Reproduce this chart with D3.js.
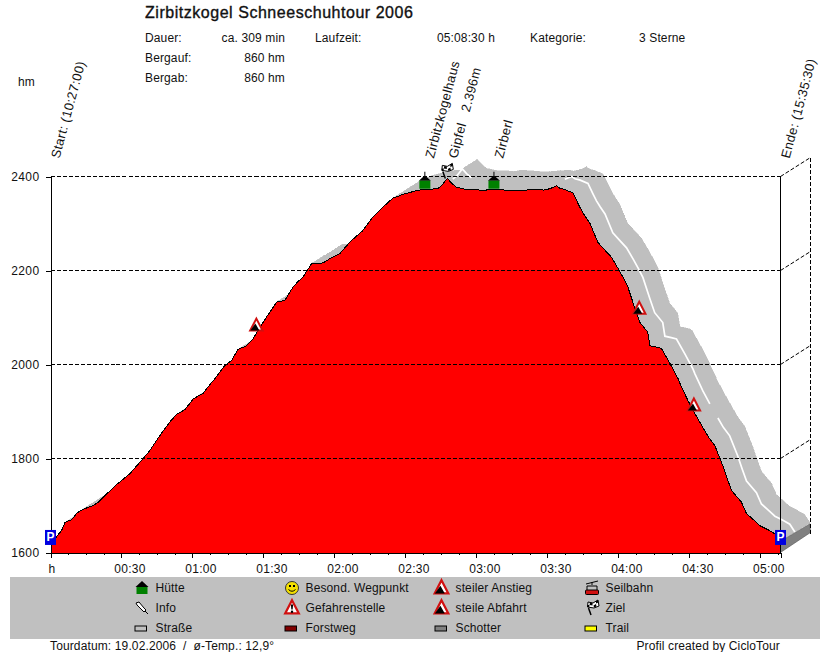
<!DOCTYPE html>
<html><head><meta charset="utf-8">
<script src="https://cdn.jsdelivr.net/npm/d3@7"></script>
<style>
html,body{margin:0;padding:0;background:#fff}
svg{display:block}
text{font-family:"Liberation Sans",Arial,sans-serif;font-size:12px;fill:#111;letter-spacing:.13px;white-space:pre}
</style></head><body>
<svg id="c" width="830" height="652"></svg>
<script>
// minutes since start
const times=[0,2.3,4.7,6.1,9,11,13,15.8,18,20,23,25.5,28.5,31,33.6,36,38.5,42,45.4,48.4,51,53.3,56.8,60.2,62,64.4,67,69.5,73.7,76.6,79.2,82.9,85.6,88.5,91.3,93.5,95.6,99,102.5,104.5,106.7,110.4,115.1,118,122.3,125,127.3,132,136.3,138,140.5,144.7,149,154,156.8,160,163.7,165.5,167.7,169.5,171.6,176,180,183,186,190,194,198.4,203,207,208.5,211,213.9,215.3,217.5,220.8,222.9,224.4,226,228,231.3,234,237.1,239.9,242,244,247,249,252.4,253.3,256,258.2,261.8,265.2,266,269.4,272.3,275.7,278,280.7,284.1,286,287.8,292,294.1,297,299.8,303,306.1,308.3];
// metres above sea level
const elevations=[1619,1632,1647,1664,1670,1683,1690,1696,1700,1706,1721,1733,1747,1757,1768,1782,1796,1817,1843,1864,1881,1894,1904,1926,1932,1938,1955,1970,1998,2009,2032,2040,2055,2079,2101,2117,2133,2136,2165,2176,2186,2215,2216,2225,2236,2252,2264,2285,2314,2322,2335,2354,2362,2369,2372,2373,2374,2382,2396,2386,2377,2372,2372,2370,2373,2372,2370,2370,2372,2373,2371,2374,2380,2375,2372,2365,2343,2328,2315,2300,2260,2245,2228,2204,2185,2165,2119,2090,2069,2040,2037,2034,2002,1970,1960,1923,1896,1866,1846,1828,1785,1757,1732,1707,1683,1670,1657,1649,1640,1623];
const xTickLabels=["h","00:30","01:00","01:30","02:00","02:30","03:00","03:30","04:00","04:30","05:00"];
const xTickValues=[0,30,60,90,120,150,180,210,240,270,300];
const yTickValues=[1600,1800,2000,2200,2400];
const huts=[[158.2,2374],[187.4,2374]];
const warnings=[[87,2070],[248.8,2106],[271.9,1900]];
const summitFlag=[[167.7,2396]];
const parking=[[0,1632],[308.5,1632]];
const centreLineSpans=[[163,171.6],[211,272.3],[273.5,308.3]];
const waypointLabels=[["Start: (10:27:00)",0],["Zirbitzkogelhaus",158.2],["Gipfel   2.396m",168],["Zirberl",187.4],["Ende: (15:35:30)",308.5]];
const infoRows=[["Dauer:","ca. 309 min"],["Bergauf:","860 hm"],["Bergab:","860 hm"]];
const legendRows=[["Hütte","Besond. Wegpunkt","steiler Anstieg","Seilbahn"],["Info","Gefahrenstelle","steile Abfahrt","Ziel"],["Straße","Forstweg","Schotter","Trail"]];

const svg=d3.select("#c");
const x=d3.scaleLinear().domain([0,308.5]).range([50.5,780.5]);
const y=d3.scaleLinear().domain([1600,2400]).range([552.5,176.5]);
const dx=30,dy=-19;
const pts=times.map((t,i)=>[x(t),y(elevations[i])]);
const dash="4,2";

// ribbon (road surface in perspective)
const rib=svg.append("g").attr("shape-rendering","crispEdges");
rib.selectAll("path").data(d3.pairs(pts)).join("path")
 .attr("fill","#bfbfbf").attr("stroke","#bfbfbf").attr("stroke-width",.5)
 .attr("d",([a,b])=>`M${a}L${b}L${b[0]+dx},${b[1]+dy}L${a[0]+dx},${a[1]+dy}Z`);
// ribbon centre line
const cl=d3.line().x(i=>pts[i][0]+dx/2).y(i=>pts[i][1]+dy/2);
centreLineSpans.forEach(([a,b])=>{
 const idx=d3.range(pts.length).filter(i=>times[i]>=a&&times[i]<=b);
 svg.append("path").attr("fill","none").attr("stroke","#fff").attr("stroke-width",1.7).attr("d",cl(idx));
});

// end wedge
const last=pts[pts.length-1];
svg.append("path").attr("fill","#808080").attr("stroke","#444").attr("stroke-width",.5)
 .attr("d",`M${x(308.5)},${y(1600)}L${x(308.5)+dx},${y(1600)+dy-1}L${last[0]+dx},${last[1]+dy+1}L${last[0]},${last[1]}Z`);

// profile
const area=d3.area().x(d=>d[0]).y1(d=>d[1]).y0(y(1600));
svg.append("path").attr("fill","#ff0000").attr("shape-rendering","crispEdges").attr("d",area(pts));
svg.append("path").attr("fill","none").attr("stroke","#000").attr("stroke-width",1).attr("shape-rendering","crispEdges")
 .attr("d",d3.line()(pts));

// grid
const grid=svg.append("g").attr("stroke","#000").attr("fill","none").attr("shape-rendering","crispEdges");
yTickValues.slice(1).forEach(v=>{
 grid.append("path").attr("stroke-dasharray",dash).attr("d",`M${x(0)},${y(v)}H${x(308.5)}`);
});
const sl=svg.append("g").attr("stroke","#000").attr("fill","none");
yTickValues.slice(1).forEach(v=>{
 sl.append("path").attr("stroke-dasharray",dash).attr("d",`M${x(308.5)},${y(v)}l${dx},${dy}`);
});
grid.append("path").attr("stroke-dasharray",dash).attr("d",`M${x(308.5)+dx},${y(2400)+dy}V${y(1600)+dy}`);

// axes
const axes=svg.append("g");
const yAxis=d3.axisLeft(y).tickValues(yTickValues).tickSize(5).tickPadding(6).tickFormat(d3.format("d"));
axes.append("g").attr("transform",`translate(${x(0)},0)`).call(yAxis)
 .call(g=>g.selectAll("text").style("font-size","12px").style("letter-spacing",".4px").attr("dy","0.3em"));
const xAxis=d3.axisBottom(x).tickValues(xTickValues).tickSize(5).tickPadding(7).tickFormat((d,i)=>xTickLabels[i]);
axes.append("g").attr("transform",`translate(0,${y(1600)})`).call(xAxis)
 .call(g=>g.selectAll("text").style("font-size","12px").style("letter-spacing",".3px").attr("dy","0.71em")
   .attr("dx",(d,i)=>i?8:1));
axes.append("g").attr("transform",`translate(0,${y(1600)})`)
 .call(d3.axisBottom(x).tickValues(d3.range(0,308,7.5)).tickSize(2).tickFormat(""));
axes.selectAll(".domain").attr("stroke","#000");
axes.selectAll("path,line").attr("shape-rendering","crispEdges");
axes.append("path").attr("stroke","#000").attr("shape-rendering","crispEdges").attr("d",`M${x(308.5)},${y(2400)}V${y(1600)}`);

// icon painters
function hut(g){
 g.append("path").attr("fill","#000").attr("d","M-.5,-17V-13L-6,-8H6L.5,-13V-17Z");
 g.append("rect").attr("x",-5.5).attr("y",-8).attr("width",11).attr("height",8).attr("fill","#008000");
}
function warn(g,kind){
 g.append("path").attr("fill","#fff").attr("stroke","#d01010").attr("stroke-width",2).attr("stroke-linejoin","miter")
  .attr("d","M0,-13L6.2,-1H-6.2Z");
 if(kind==="mark"){
  g.append("path").attr("fill","#000").attr("d","M-1,-9H1L.6,-4.5H-.6Z");
  g.append("rect").attr("x",-1).attr("y",-3.5).attr("width",2).attr("height",2).attr("fill","#000");
 } else {
  g.append("path").attr("fill","#000").attr("d","M-6,-1L-1,-8L3,-1Z");
 }
}
function flag(g){
 g.append("path").attr("stroke","#000").attr("stroke-width",1.5).attr("fill","none").attr("d","M-2,0L-4.5,-7");
 g.append("path").attr("fill","#fff").attr("stroke","#000").attr("d","M-5.5,-8L-5,-13L0,-12L5,-15L6,-9L1,-7Z");
 g.append("path").attr("fill","#000").attr("d","M-3,-12.5L-.5,-12V-9.5L-3.5,-10ZM.5,-9.5L3,-11L3.5,-8.5L1,-7.5ZM3,-14L5,-15L5.3,-12.5L3,-11.5ZM-5.5,-10L-3.5,-10L-3.8,-8H-5.5Z");
}
function park(g){
 g.append("rect").attr("x",-5.5).attr("y",-7.5).attr("width",11).attr("height",15).attr("fill","#0000e0");
 g.append("text").attr("text-anchor","middle").attr("y",4).style("font-size","12px").style("font-weight","bold").style("fill","#fff").text("P");
}

// markers
const at=d=>`translate(${x(d[0])},${y(d[1])})`;
svg.selectAll(".h").data(huts).join("g").attr("transform",at).each(function(){hut(d3.select(this))});
svg.selectAll(".w").data(warnings).join("g").attr("transform",at).each(function(){warn(d3.select(this),"m")});
svg.selectAll(".f").data(summitFlag).join("g").attr("transform",at).each(function(){flag(d3.select(this))});
svg.selectAll(".p").data(parking).join("g").attr("transform",at).each(function(){park(d3.select(this))});

// rotated labels
svg.selectAll(".lab").data(waypointLabels).join("text")
 .attr("transform",d=>`translate(${x(d[1])+9},159) rotate(-75)`)
 .style("font-size","13px").style("letter-spacing",".35px").text(d=>d[0]);

// header
svg.append("text").attr("x",145).attr("y",18).attr("textLength",268).attr("stroke","#111").attr("stroke-width",.35)
 .style("font-size","16px").text("Zirbitzkogel Schneeschuhtour 2006");
infoRows.forEach((r,i)=>{
 svg.append("text").attr("x",145).attr("y",42+20*i).text(r[0]);
 svg.append("text").attr("x",285).attr("y",42+20*i).attr("text-anchor","end").text(r[1]);
});
svg.append("text").attr("x",315).attr("y",42).text("Laufzeit:");
svg.append("text").attr("x",495).attr("y",42).attr("text-anchor","end").text("05:08:30 h");
svg.append("text").attr("x",530).attr("y",42).text("Kategorie:");
svg.append("text").attr("x",639).attr("y",42).text("3 Sterne");
svg.append("text").attr("x",18).attr("y",86).text("hm");

// legend
svg.append("rect").attr("x",10).attr("y",577).attr("width",810).attr("height",62).attr("fill","#c0c0c0");
const colX=[155.5,305.5,455.5,605.5], rowY=[592,612,632];
legendRows.forEach((row,r)=>row.forEach((t,c)=>{
 svg.append("text").attr("x",colX[c]).attr("y",rowY[r]).text(t);
}));
const ic=(c,r)=>svg.append("g").attr("transform",`translate(${colX[c]-13.5},${rowY[r]})`);
const lh=ic(0,0).attr("transform","translate(142,594)");
lh.append("path").attr("fill","#000").attr("d","M0,-13L6.5,-7H-6.5Z");
lh.append("rect").attr("x",-5.5).attr("y",-7).attr("width",11).attr("height",7).attr("fill","#008000");
// info pin
const pin=ic(0,1);
pin.append("path").attr("fill","#fff").attr("stroke","#000").attr("d","M-6,-9L-3,-10L2,-4L4,-2L2,0L0,-2L-5,-7Z");
pin.append("path").attr("stroke","#000").attr("d","M3,-1L6,2");
const swatch=(c,col)=>ic(c,2).append("rect").attr("x",-7).attr("y",-6).attr("width",11.5).attr("height",5).attr("fill",col).attr("stroke","#000");
swatch(0,"#c0c0c0");swatch(1,"#800000");swatch(2,"#808080");swatch(3,"#ffff00");
// smiley
const sm=ic(1,0);
sm.append("circle").attr("cx",0).attr("cy",-4).attr("r",6.5).attr("fill","#f4e000").attr("stroke","#333");
sm.append("path").attr("fill","#000").attr("d","M-3,-7h2v2h-2ZM1,-7h2v2h-2Z");
sm.append("path").attr("fill","none").attr("stroke","#000").attr("d","M-3.5,-2.5Q0,1,3.5,-2.5");
warn(ic(1,1).attr("transform","translate(292,614.5) scale(1.1)"),"mark");
warn(ic(2,0).attr("transform","translate(441.5,594.5) scale(1.1)"),"m");
warn(ic(2,1).attr("transform","translate(441.5,614.5) scale(1.1)"),"m");
// cable car
const cc=ic(3,0).attr("transform","translate(592,594)");
cc.append("path").attr("stroke","#000").attr("fill","none").attr("d","M-6,-10L6,-13M0,-12V-9M-5,-3V-8H5V-3");
cc.append("rect").attr("x",-6.5).attr("y",-4).attr("width",13).attr("height",4.5).attr("rx",1).attr("fill","#d01010").attr("stroke","#000");
flag(ic(3,1).attr("transform","translate(593,615)"));

// footer
svg.append("text").attr("x",50).attr("y",650).text("Tourdatum: 19.02.2006  /  ø-Temp.: 12,9°");
svg.append("text").attr("x",780).attr("y",650).attr("text-anchor","end").text("Profil created by CicloTour");
</script>
</body></html>
